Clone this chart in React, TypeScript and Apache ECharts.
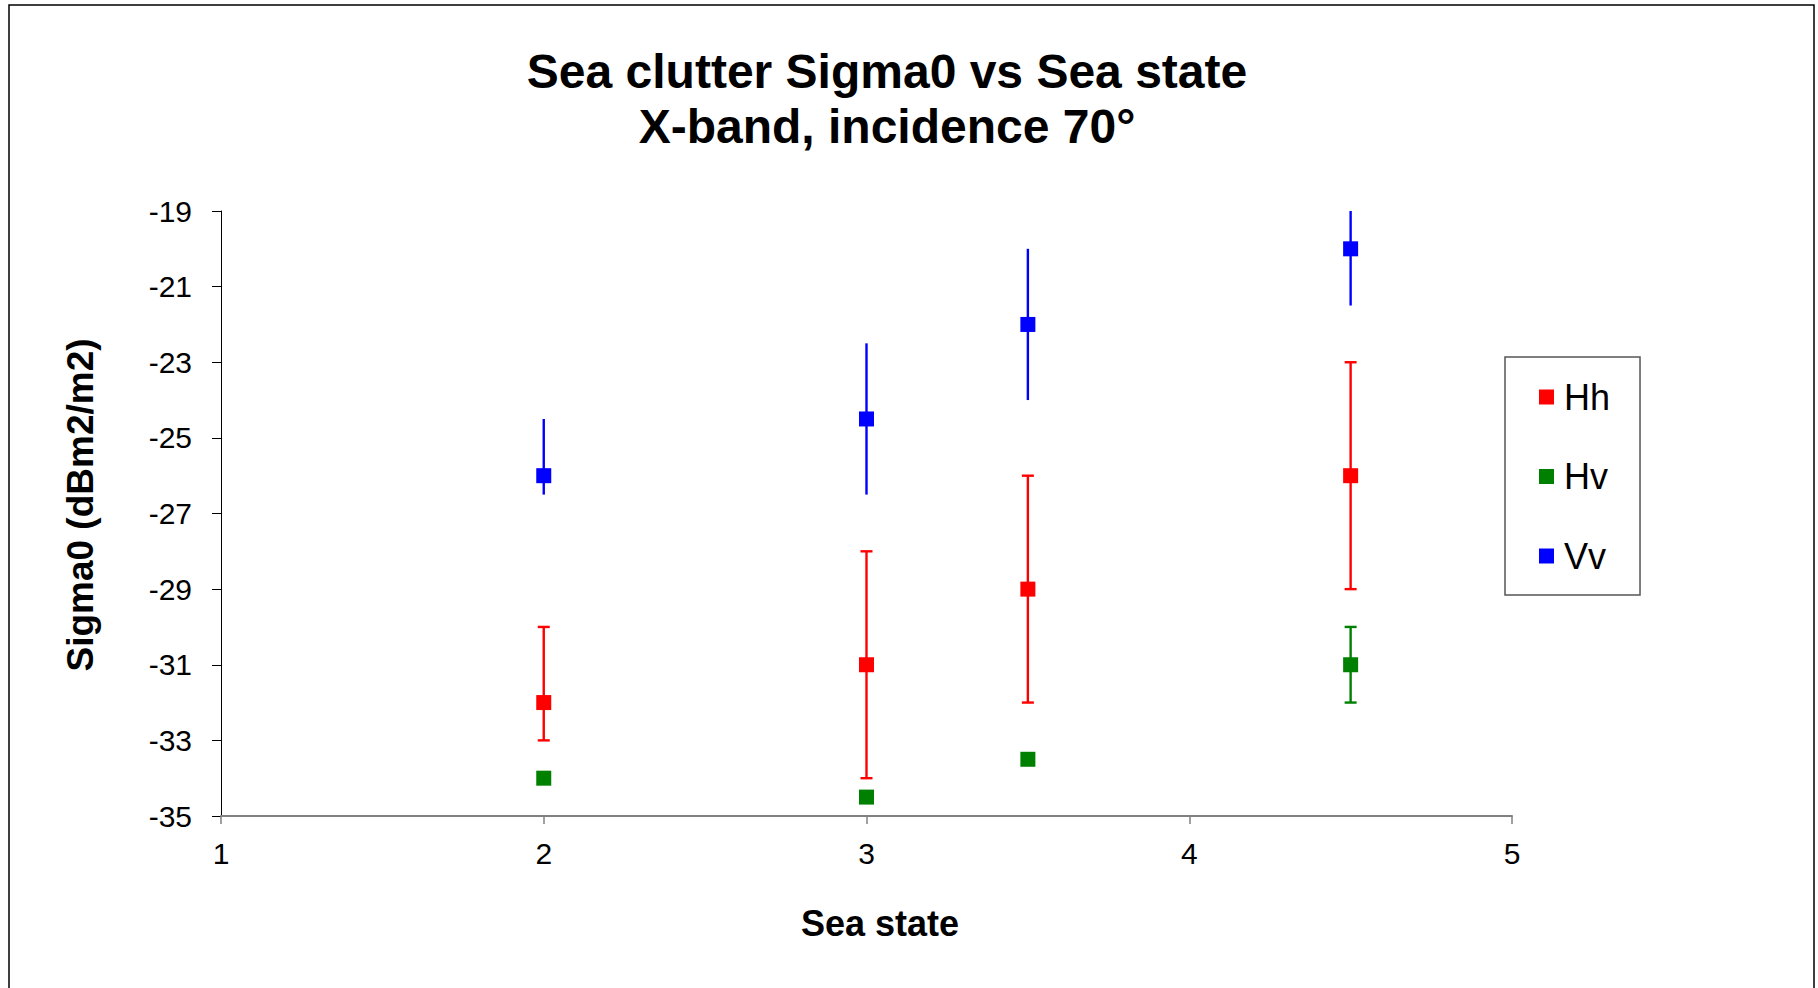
import React, { useEffect, useRef } from "react";
import * as echarts from "echarts";

// ---- Data ----
const seaState = [2, 3, 3.5, 4.5];

const hhMean = [-32, -31, -29, -26];
const hhLow = [-33, -34, -32, -29];
const hhHigh = [-30, -28, -26, -23];

const hvMean = [-34, -34.5, -33.5, -31];
const hvLow: (number | null)[] = [null, null, null, -32];
const hvHigh: (number | null)[] = [null, null, null, -30];

const vvMean = [-26, -24.5, -22, -20];
const vvLow = [-26.5, -26.5, -24, -21.5];
const vvHigh = [-24.5, -22.5, -20, -19];

const yTicks = [-35, -33, -31, -29, -27, -25, -23, -21, -19];
const seriesNames = ["Hh", "Hv", "Vv"];
const seriesColors = ["#FF0000", "#008000", "#0000FF"];

const titleLines = ["Sea clutter Sigma0 vs Sea state", "X-band, incidence 70°"];
const xTitle = "Sea state";
const yTitle = "Sigma0 (dBm2/m2)";

const FONT = "'Liberation Sans', Arial, Helvetica, sans-serif";

function points(xs: number[], ys: number[]) {
  return xs.map((x, i) => [x, ys[i]]);
}

function errRows(xs: number[], lo: (number | null)[], hi: (number | null)[]) {
  const rows: number[][] = [];
  xs.forEach((x, i) => {
    if (lo[i] != null && hi[i] != null) rows.push([x, lo[i] as number, hi[i] as number]);
  });
  return rows;
}

function errorSeries(name: string, color: string, rows: number[][], cap: boolean) {
  return {
    type: "custom",
    name: name + " error",
    clip: true,
    z: 1,
    encode: { x: 0, y: [1, 2] },
    data: rows,
    renderItem: (params: any, api: any) => {
      const x = api.value(0);
      const lo = api.coord([x, api.value(1)]);
      const hi = api.coord([x, api.value(2)]);
      const style = { stroke: color, lineWidth: 2.4 };
      const children: any[] = [
        { type: "line", shape: { x1: lo[0], y1: lo[1], x2: hi[0], y2: hi[1] }, style },
      ];
      if (cap) {
        const w = 6;
        children.push({ type: "line", shape: { x1: lo[0] - w, y1: lo[1], x2: lo[0] + w, y2: lo[1] }, style });
        children.push({ type: "line", shape: { x1: hi[0] - w, y1: hi[1], x2: hi[0] + w, y2: hi[1] }, style });
      }
      return { type: "group", children };
    },
  };
}

function scatterSeries(name: string, color: string, data: number[][]) {
  return {
    type: "scatter",
    name,
    symbol: "rect",
    symbolSize: 15,
    z: 3,
    itemStyle: { color, opacity: 1 },
    data,
  };
}

export default function App() {
  const ref = useRef<HTMLDivElement>(null);

  useEffect(() => {
    if (!ref.current) return;
    const chart = echarts.init(ref.current, null, { renderer: "svg" });
    const option: any = {
      animation: false,
      backgroundColor: "#ffffff",
      grid: { left: 221, top: 211, width: 1291, height: 605, containLabel: false },
      xAxis: {
        type: "value",
        min: 1,
        max: 5,
        interval: 1,
        axisLine: { show: true, onZero: false, lineStyle: { color: "#808080", width: 2 } },
        axisTick: { show: true, inside: false, length: 8, lineStyle: { color: "#808080", width: 1.5 } },
        axisLabel: { color: "#000", fontSize: 30, fontFamily: FONT, margin: 22 },
        splitLine: { show: false },
      },
      yAxis: {
        type: "value",
        min: -35,
        max: -19,
        axisLine: { show: true, onZero: false, lineStyle: { color: "#000", width: 1 } },
        axisTick: { show: true, inside: false, length: 9, customValues: yTicks, lineStyle: { color: "#000", width: 1 } },
        axisLabel: { color: "#000", fontSize: 30, fontFamily: FONT, margin: 29, customValues: yTicks },
        splitLine: { show: false },
      },
      legend: {
        data: seriesNames,
        orient: "vertical",
        left: 1505,
        top: 357,
        padding: [20, 30, 19, 34],
        itemGap: 39.5,
        itemWidth: 15,
        itemHeight: 15,
        icon: "rect",
        borderColor: "#555555",
        borderWidth: 1.5,
        backgroundColor: "#ffffff",
        selectedMode: false,
        textStyle: { fontSize: 36, fontFamily: FONT, color: "#000", lineHeight: 40, padding: [0, 0, 0, 5] },
      },
      graphic: [
        {
          type: "rect",
          silent: true,
          z: -10,
          shape: { x: 9, y: 5, width: 1805, height: 1100 },
          style: { fill: "none", stroke: "#000", lineWidth: 1.5 },
        },
        {
          type: "text",
          x: 887,
          y: 71,
          style: { text: titleLines[0], fontSize: 48, fontWeight: "bold", fontFamily: FONT, fill: "#000", align: "center", verticalAlign: "middle" },
        },
        {
          type: "text",
          x: 887,
          y: 126,
          style: { text: titleLines[1], fontSize: 48, fontWeight: "bold", fontFamily: FONT, fill: "#000", align: "center", verticalAlign: "middle" },
        },
        {
          type: "text",
          x: 880,
          y: 923,
          style: { text: xTitle, fontSize: 36, fontWeight: "bold", fontFamily: FONT, fill: "#000", align: "center", verticalAlign: "middle" },
        },
        {
          type: "text",
          x: 80,
          y: 505,
          rotation: Math.PI / 2,
          style: { text: yTitle, fontSize: 37, fontWeight: "bold", fontFamily: FONT, fill: "#000", align: "center", verticalAlign: "middle" },
        },
      ],
      series: [
        errorSeries("Hh", seriesColors[0], errRows(seaState, hhLow, hhHigh), true),
        errorSeries("Hv", seriesColors[1], errRows(seaState, hvLow, hvHigh), true),
        errorSeries("Vv", seriesColors[2], errRows(seaState, vvLow, vvHigh), false),
        scatterSeries("Hh", seriesColors[0], points(seaState, hhMean)),
        scatterSeries("Hv", seriesColors[1], points(seaState, hvMean)),
        scatterSeries("Vv", seriesColors[2], points(seaState, vvMean)),
      ],
    };
    chart.setOption(option);
    return () => chart.dispose();
  }, []);

  return (
    <div
      ref={ref}
      style={{ position: "absolute", left: 0, top: 0, width: 1818, height: 988, background: "#fff" }}
    />
  );
}
